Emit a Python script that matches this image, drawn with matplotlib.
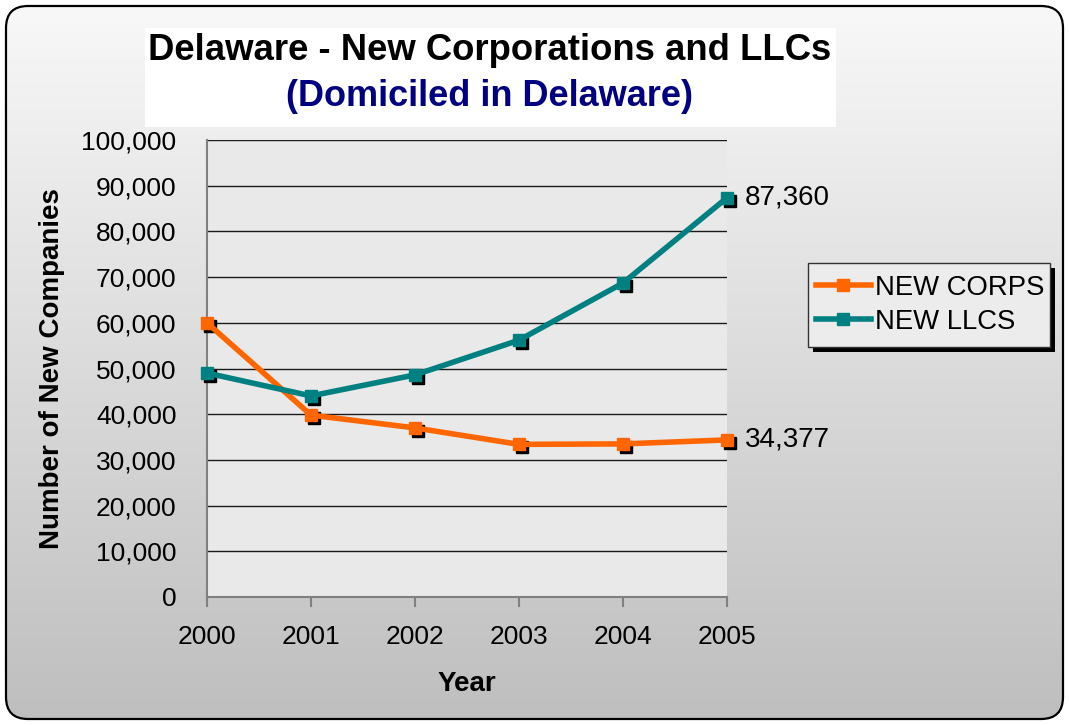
import numpy as np
import matplotlib
matplotlib.use("Agg")
import matplotlib.pyplot as plt
from matplotlib.patches import FancyBboxPatch, Rectangle
from matplotlib.transforms import offset_copy
from matplotlib.ticker import FuncFormatter, MultipleLocator

years = [2000, 2001, 2002, 2003, 2004, 2005]
new_corps = [60000, 39800, 37000, 33400, 33500, 34377]
new_llcs = [49000, 44000, 48600, 56200, 68700, 87360]
series_names = ["NEW CORPS", "NEW LLCS"]
title = "Delaware - New Corporations and LLCs"
subtitle = "(Domiciled in Delaware)"

plt.rcParams['font.family'] = ['Liberation Sans', 'DejaVu Sans']

W, H = 1069, 725
fig = plt.figure(figsize=(W / 100, H / 100), dpi=100)

# background gradient with rounded border
bg = fig.add_axes([0, 0, 1, 1], zorder=-10)
bg.set_xlim(0, W)
bg.set_ylim(H, 0)
bg.axis('off')
grad = np.linspace(0.975, 0.745, 256).reshape(-1, 1)
im = bg.imshow(np.dstack([grad, grad, grad]), extent=[0, W, H, 0], aspect='auto')
box = FancyBboxPatch((6, 6), W - 12, H - 12, boxstyle="round,pad=0,rounding_size=22",
                     fc='none', ec='black', lw=1.6)
bg.add_patch(box)
im.set_clip_path(box)
# white title box
bg.add_patch(Rectangle((145, 28), 691, 99, fc='white', ec='none'))

# main axes
x0, x1, yt, yb = 207, 727, 140, 597
ax = fig.add_axes([x0 / W, 1 - yb / H, (x1 - x0) / W, (yb - yt) / H])
ax.set_facecolor('#e9e9e9')
ax.set_xlim(2000, 2005)
ax.set_ylim(0, 100000)
ax.yaxis.set_major_locator(MultipleLocator(10000))
ax.yaxis.set_major_formatter(FuncFormatter(lambda v, p: f"{int(v):,}"))
ax.set_xticks(years)
ax.grid(axis='y', color='#1a1a1a', lw=1.0)
ax.set_axisbelow(True)
for s in ['top', 'right']:
    ax.spines[s].set_visible(False)
for s in ['left', 'bottom']:
    ax.spines[s].set_color('#808080')
    ax.spines[s].set_linewidth(1.5)
ax.tick_params(axis='y', length=0, labelsize=19, pad=22)
ax.tick_params(axis='x', length=7, width=1.5, color='#808080', labelsize=19, pad=13)
for lab in ax.get_xticklabels():
    lab.set_clip_on(False)

shadow = offset_copy(ax.transData, fig=fig, x=3, y=-3, units='dots')
colors = ['#ff6600', '#008080']
for vals, c, name in zip([new_corps, new_llcs], colors, series_names):
    ax.plot(years, vals, ls='none', marker='s', ms=8, color='black',
            transform=shadow, clip_on=False, zorder=3)
    ax.plot(years, vals, color=c, lw=4, marker='s', ms=8, mec=c, mfc=c,
            label=name, clip_on=False, zorder=4)

for vals in [new_llcs, new_corps]:
    ax.annotate(f"{vals[-1]:,}", (years[-1], vals[-1]), xytext=(13, 0),
                textcoords='offset points', fontsize=20, va='center', ha='left',
                annotation_clip=False)

ax.set_ylabel("Number of New Companies", fontsize=20, fontweight='bold', labelpad=12)
ax.set_xlabel("Year", fontsize=20, fontweight='bold', labelpad=16)

fig.text(490 / W, 1 - 50 / H, title, fontsize=26.3, fontweight='bold', ha='center', va='center')
fig.text(490 / W, 1 - 97 / H, subtitle, fontsize=26, fontweight='bold', ha='center',
         va='center', color='#000080')

# legend with shadow
lx0, ly0, lx1, ly1 = 808, 263, 1050, 347
bg.add_patch(Rectangle((lx0 + 5, ly0 + 5), lx1 - lx0, ly1 - ly0, fc='black', ec='none', zorder=1))
bg.add_patch(Rectangle((lx0, ly0), lx1 - lx0, ly1 - ly0, fc='#ececec', ec='#333333', lw=1, zorder=2))
leg = fig.legend(loc='center left', bbox_to_anchor=((lx0 + 2) / W, 1 - (ly0 + ly1) / 2 / H),
                 frameon=False, fontsize=19.8, handlelength=2.0, handletextpad=0.15,
                 labelspacing=0.3, borderpad=0.2, borderaxespad=0)
for h in leg.legend_handles:
    h.set_markersize(9)

fig.savefig("out.png", dpi=100)
